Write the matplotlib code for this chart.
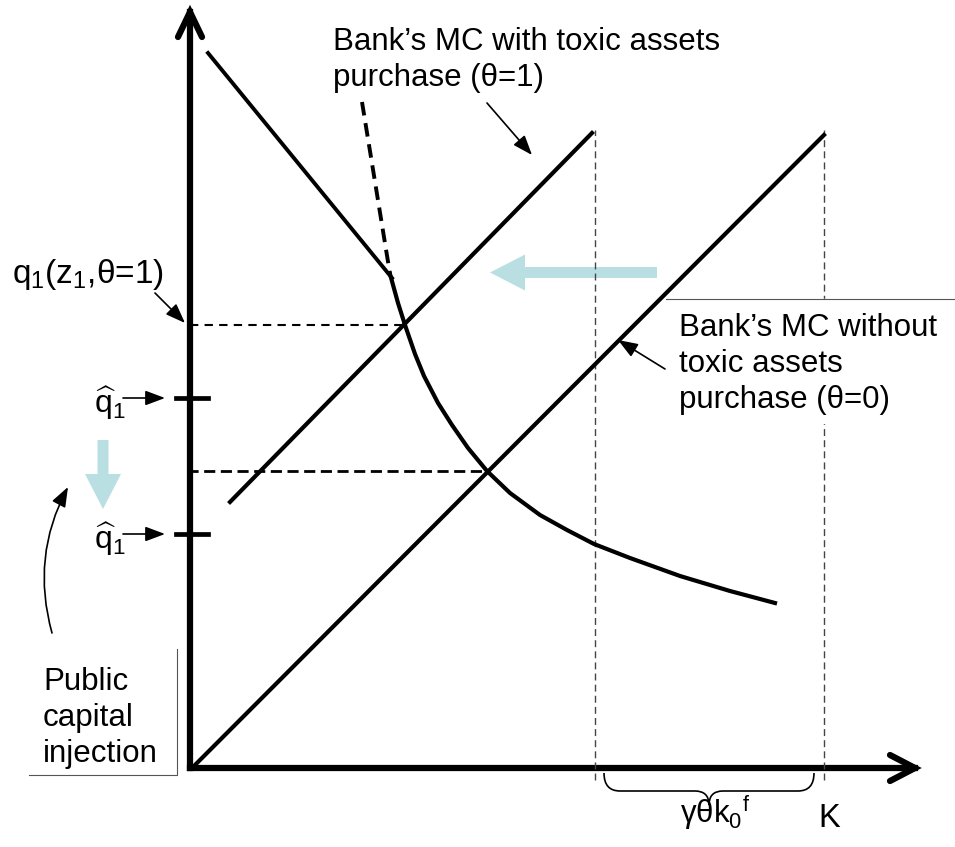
import matplotlib
matplotlib.use('Agg')
import matplotlib.pyplot as plt
from matplotlib.patches import FancyArrow, FancyArrowPatch, PathPatch
from matplotlib.path import Path

plt.rcParams['font.family'] = ['Liberation Sans', 'DejaVu Sans']
plt.rcParams['mathtext.fontset'] = 'custom'
plt.rcParams['mathtext.rm'] = 'Liberation Sans'
plt.rcParams['mathtext.it'] = 'Liberation Sans'
plt.rcParams['mathtext.bf'] = 'Liberation Sans:bold'

# diagram coordinates: K to the right, q upward, origin at the axes corner
K_tip, q_tip = 725, 756

# bank's MC lines
mc0_K = [2, 634]
mc0_q = [0, 633]
mc1_K = [40, 402]
mc1_q = [266, 635]

# demand for capital
dem_top_K = [18, 202]
dem_top_q = [715, 490]
dem_dash_K = [172, 200]
dem_dash_q = [666, 494]
dem_K = [200, 208, 215, 225, 234, 248, 262, 278, 297, 320, 350, 377, 404, 440, 490, 540, 585]
dem_q = [494, 465, 443, 414, 392, 365, 343, 320, 297, 275, 253, 238, 224, 210, 192, 177, 165]

# equilibria
eq1_K, eq1_q = 215, 443
eq0_K, eq0_q = 297, 297

# q-hat levels on the vertical axis
qhat_levels = [370, 234]

# vertical guides
guide_K = [405, 634]
guide_q = [-12, 638]

blue = '#b9dfe2'
arrow_style = dict(arrowstyle='-|>,head_length=0.8,head_width=0.3',
                   mutation_scale=15, lw=1.2, color='k', shrinkA=0, shrinkB=0)

fig = plt.figure(figsize=(9.55, 8.47), dpi=100)
ax = fig.add_axes([0, 0, 1, 1])
ax.set_xlim(-190, 765)
ax.set_ylim(-79, 768)
ax.axis('off')

# axes with open arrow heads
ax.plot([0, 0], [0, q_tip], color='k', lw=4.5, solid_capstyle='projecting')
ax.plot([0, K_tip], [0, 0], color='k', lw=4.5, solid_capstyle='projecting')
ax.plot([-12, 0, 12], [q_tip - 25, q_tip, q_tip - 25], color='k', lw=4.5,
        solid_joinstyle='miter', solid_capstyle='round')
ax.plot([K_tip - 25, K_tip, K_tip - 25], [13, 0, -13], color='k', lw=4.5,
        solid_joinstyle='miter', solid_capstyle='round')

# vertical dashed guides
for k in guide_K:
    ax.plot([k, k], guide_q, color='#444444', lw=1.0, ls=(0, (5, 3)))

# MC lines
ax.plot(mc0_K, mc0_q, color='k', lw=3)
ax.plot(mc1_K, mc1_q, color='k', lw=3)

# demand
ax.plot(dem_top_K, dem_top_q, color='k', lw=2.8)
ax.plot(dem_dash_K, dem_dash_q, color='k', lw=2.8, ls=(0, (3.5, 2)))
ax.plot(dem_K, dem_q, color='k', lw=3, solid_joinstyle='round')

# horizontal dashed lines to the axis
ax.plot([0, eq1_K], [eq1_q, eq1_q], color='k', lw=1.5, ls=(0, (4, 3)))
ax.plot([-3, eq0_K], [eq0_q, eq0_q], color='k', lw=2.0, ls=(0, (4, 2)))

# q-hat ticks, labels and small arrows
for lev in qhat_levels:
    ax.plot([-14, 18], [lev, lev], color='k', lw=3.4)
    ax.text(-96, lev - 15, r'$\widehat{\mathrm{q}}_1$', fontsize=23,
            ha='left', va='baseline')
    ax.annotate('', xy=(-25, lev), xytext=(-67, lev), arrowprops=arrow_style)

# light blue arrows
ax.add_patch(FancyArrow(467, 495.5, -167, 0, width=11, head_width=36,
                        head_length=35, length_includes_head=True,
                        color=blue, lw=0))
ax.add_patch(FancyArrow(-87, 328, 0, -69, width=11, head_width=36,
                        head_length=35, length_includes_head=True,
                        color=blue, lw=0))

# curved arrow from "Public capital injection"
ax.add_patch(FancyArrowPatch((-138, 135), (-122, 281),
                             connectionstyle='arc3,rad=-0.2', **arrow_style))

# q1 label and arrow
ax.text(-178, 485, r'q$_1$(z$_1$,θ=1)', fontsize=24, ha='left', va='baseline')
ax.annotate('', xy=(-5, 445), xytext=(-35, 475), arrowprops=arrow_style)

# top label (va='baseline' anchors the last line)
ax.text(143, 682, 'Bank\u2019s MC with toxic assets\npurchase (θ=1)', fontsize=22.5,
        ha='left', va='baseline', linespacing=1.27)
ax.annotate('', xy=(342, 613), xytext=(297, 665), arrowprops=arrow_style)

# right label in a white box with top rule
ax.fill_between([475, 765], 345, 469, color='white', zorder=3)
ax.plot([476, 765], [469, 469], color='#555555', lw=0.8, zorder=4)
ax.text(489, 360, 'Bank\u2019s MC without\ntoxic assets\npurchase (θ=0)', fontsize=22.5,
        ha='left', va='baseline', linespacing=1.27, zorder=5)
ax.annotate('', xy=(428, 428), xytext=(475, 399), arrowprops=arrow_style)

# left label with right/bottom rules
ax.plot([-161, -13, -13], [-7, -7, 119], color='#555555', lw=0.8)
ax.text(-147, 6, 'Public\ncapital\ninjection', fontsize=22.5,
        ha='left', va='baseline', linespacing=1.27)

# brace under the K axis
brace = Path([(414, -5), (414, -23), (430, -23), (505, -23), (519, -23), (519, -37),
              (519, -23), (533, -23), (608, -23), (624, -23), (624, -5)],
             [Path.MOVETO, Path.CURVE3, Path.CURVE3, Path.LINETO, Path.CURVE3, Path.CURVE3,
              Path.CURVE3, Path.CURVE3, Path.LINETO, Path.CURVE3, Path.CURVE3])
ax.add_patch(PathPatch(brace, fill=False, lw=1.2, color='k'))
ax.text(490, -55, r'γθk$_0$$^\mathrm{f}$', fontsize=22.5, ha='left', va='baseline')
ax.text(628, -59, 'K', fontsize=23.5, ha='left', va='baseline')

fig.savefig('out.png', dpi=100)
